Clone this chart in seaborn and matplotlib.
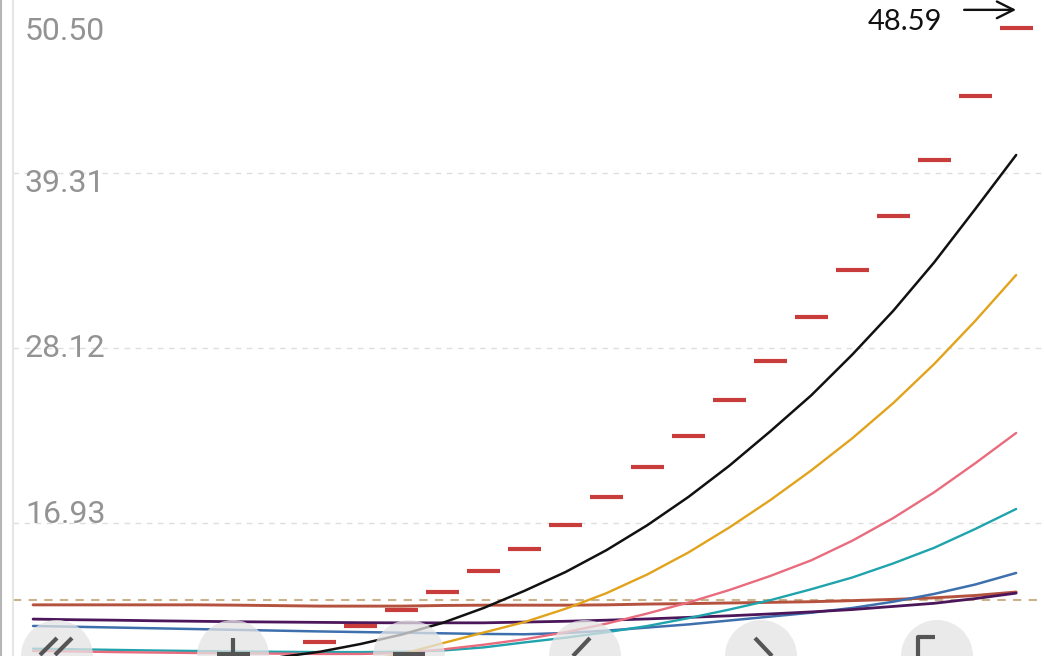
import numpy as np
import pandas as pd
import matplotlib
matplotlib.use("Agg")
import matplotlib.pyplot as plt
from matplotlib.patches import Ellipse
from matplotlib.lines import Line2D
from matplotlib.transforms import IdentityTransform, offset_copy
import seaborn as sns

# 25 steps along the x axis
steps = list(range(25))

black_curve = [7.9, 7.9, 7.95, 8.0, 8.05, 8.15, 8.35, 8.7, 9.2, 9.8, 10.55, 11.5, 12.6,
               13.8, 15.2, 16.8, 18.6, 20.6, 22.8, 25.1, 27.7, 30.5, 33.6, 37.0, 40.46]
gold_curve = [7.5, 7.5, 7.5, 7.55, 7.6, 7.7, 7.8, 7.95, 8.1, 8.55, 9.25, 9.93, 10.6,
              11.45, 12.45, 13.65, 15.05, 16.65, 18.4, 20.3, 22.35, 24.6, 27.1, 29.85, 32.79]
pink_curve = [8.75, 8.72, 8.68, 8.65, 8.62, 8.6, 8.58, 8.56, 8.56, 8.62, 8.85, 9.15, 9.5,
              9.95, 10.5, 11.15, 11.85, 12.65, 13.55, 14.55, 15.8, 17.25, 18.9, 20.75, 22.69]
teal_curve = [8.9, 8.86, 8.82, 8.78, 8.75, 8.72, 8.7, 8.68, 8.68, 8.7, 8.78, 8.98, 9.3,
              9.6, 9.95, 10.35, 10.85, 11.4, 12.0, 12.7, 13.45, 14.35, 15.35, 16.55, 17.83]
blue_curve = [10.35, 10.3, 10.25, 10.2, 10.15, 10.1, 10.05, 10.0, 9.96, 9.92, 9.88, 9.84, 9.82,
              9.9, 10.05, 10.25, 10.45, 10.7, 10.95, 11.2, 11.5, 11.9, 12.4, 13.0, 13.74]
brown_curve = [11.7, 11.7, 11.7, 11.7, 11.7, 11.68, 11.65, 11.62, 11.62, 11.62, 11.66, 11.68, 11.68,
               11.68, 11.7, 11.75, 11.78, 11.82, 11.86, 11.9, 11.97, 12.05, 12.15, 12.3, 12.52]
purple_curve = [10.79, 10.75, 10.72, 10.68, 10.65, 10.62, 10.6, 10.58, 10.56, 10.55, 10.55, 10.55, 10.6,
                10.65, 10.72, 10.8, 10.9, 11.0, 11.12, 11.25, 11.4, 11.6, 11.8, 12.1, 12.45]

# red step marks (first ones sit below the visible area)
step_marks = [np.nan] * 7 + [9.32, 10.35, 11.37, 12.52, 13.86, 15.27, 16.80, 18.59, 20.51,
                             22.49, 24.80, 27.29, 30.10, 33.11, 36.56, 40.15, 44.23, 48.59]
ref_level = 12.0

y_ticks = [50.50, 39.31, 28.12, 16.93]
y_tick_labels = ["50.50", "39.31", "28.12", "16.93"]
last_label = "48.59"

series = {
    "brown": brown_curve,
    "blue": blue_curve,
    "purple": purple_curve,
    "teal": teal_curve,
    "pink": pink_curve,
    "gold": gold_curve,
    "black": black_curve,
}
palette = {
    "black": "#111111",
    "gold": "#e2a31c",
    "pink": "#e96c7e",
    "teal": "#1fa3ac",
    "blue": "#3e70ae",
    "brown": "#b4523d",
    "purple": "#4b165a",
}
widths = {"black": 1.8, "gold": 1.7, "pink": 1.7, "teal": 1.7,
          "blue": 1.8, "brown": 2.1, "purple": 2.0}

df = pd.DataFrame({"step": steps, **series}).melt(id_vars="step", var_name="series", value_name="value")

sns.set_theme(style="white")
plt.rcParams["font.family"] = ["Roboto", "DejaVu Sans"]

W, H = 1044, 656
fig = plt.figure(figsize=(W / 100, H / 100), dpi=100)
ax = fig.add_axes([13 / W, 0, 1 - 13 / W, 1])

# grid lines
for v in y_ticks:
    ax.axhline(v, color="#dedede", lw=1.0, ls=(0, (4, 4)), zorder=1)
ax.axhline(ref_level, color="#c8b38a", lw=1.5, ls=(0, (4, 3.5)), zorder=2)

for name in series:
    sub = df[df["series"] == name]
    sns.lineplot(data=sub, x="step", y="value", color=palette[name],
                 lw=widths[name], ax=ax, legend=False, zorder=3)

idx = np.array(steps, dtype=float)
marks = np.array(step_marks)
ax.hlines(marks, idx - 0.4, idx + 0.4, color="#c93c3c", lw=3.0, zorder=4)

ax.set_xlim(-0.49, 24.68)
ax.set_ylim(8.43, 50.37)
ax.set_xlabel("")
ax.set_ylabel("")
ax.set_xticks([])
ax.set_yticks([])
for s in ["top", "right", "bottom"]:
    ax.spines[s].set_visible(False)
ax.spines["left"].set_color("#e6e6e6")
ax.spines["left"].set_linewidth(1.5)

# y labels inside the plot
label_offsets = [-42, -19, -9, 0]
for v, lbl, off in zip(y_ticks, y_tick_labels, label_offsets):
    ax.annotate(lbl, xy=(0, v), xycoords=("axes fraction", "data"),
                xytext=(12, off), textcoords="offset pixels", annotation_clip=False,
                ha="left", va="baseline", color="#939393", fontsize=23)

# last value label with arrow
last_i = steps[-1]
last_v = step_marks[-1]
ax.annotate(last_label, xy=(last_i, last_v), xytext=(-74, -2), textcoords="offset pixels",
            ha="right", va="baseline", fontsize=21, color="#111111", family=["Lato", "DejaVu Sans"])
arrow_tr = offset_copy(ax.transData, fig=fig, x=0, y=18, units="dots")
ax.annotate("", xy=(last_i, last_v), xycoords=arrow_tr, xytext=(-52, 0), textcoords="offset pixels",
            arrowprops=dict(arrowstyle="->", lw=1.7, color="#111111", mutation_scale=30,
                            shrinkA=0, shrinkB=0))

# left screen edge
fig.add_artist(Line2D([0.7, 0.7], [0, H], transform=IdentityTransform(), color="#b5b5b5", lw=1.5))

# overlay buttons at the bottom
btn_x = [57, 233, 409, 585, 761, 937]
for bx in btn_x:
    fig.add_artist(Ellipse((bx, 0), 72, 72, transform=IdentityTransform(),
                           facecolor="#e4e4e4", edgecolor="none", alpha=0.75, zorder=10))
icon_kw = dict(transform=IdentityTransform(), color="#555555", lw=3, zorder=11,
               solid_capstyle="butt")
icons = [
    ([40, 57], [1, 18]), ([55, 72], [1, 18]),
    ([233, 233], [0, 18]), ([217, 250], [2, 2]),
    ([393, 425], [2, 2]),
    ([573, 590], [0, 18]),
    ([755, 772], [18, 0]),
    ([918, 918, 935], [0, 19, 19]),
]
for xs, ys in icons:
    fig.add_artist(Line2D(xs, ys, **icon_kw))

fig.savefig("out.png", dpi=100)
